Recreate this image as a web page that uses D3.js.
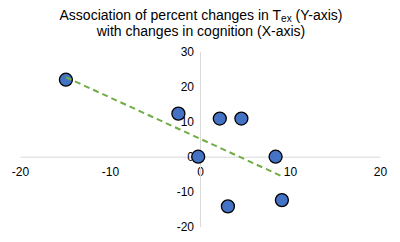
<!DOCTYPE html>
<html>
<head>
<meta charset="utf-8">
<script src="https://cdn.jsdelivr.net/npm/d3@7"></script>
<style>
  body { margin: 0; background: #fff; }
  svg { font-family: "Liberation Sans", Arial, sans-serif; }
</style>
</head>
<body>
<script>
// values
const xChange = [-14.9, -2.4, 2.2, 4.6, -0.2, 8.4, 3.1, 9.1]
const yChange = [22, 12.3, 10.9, 10.9, 0, 0, -14.2, -12.4]
const xTicks = [-20, -10, 0, 10, 20]
const yTicks = [-20, -10, 0, 10, 20, 30]

const width = 400, height = 242

const svg = d3.select('body').append('svg')
    .attr('width', width)
    .attr('height', height)

const x = d3.scaleLinear().domain([-20, 20]).range([20, 380])
const y = d3.scaleLinear().domain([-20, 30]).range([226.7, 51.7])

// title
const title = svg.append('text')
    .attr('text-anchor', 'middle')
    .attr('font-size', 14)
    .attr('fill', '#000')
title.append('tspan').attr('x', 201).attr('y', 20).text('Association of percent changes in T')
title.append('tspan').attr('font-size', 10).attr('dy', 1.5).text('ex')
title.append('tspan').attr('dy', -1.5).text(' (Y-axis)')
svg.append('text')
    .attr('x', 201).attr('y', 36)
    .attr('text-anchor', 'middle')
    .attr('font-size', 14)
    .text('with changes in cognition (X-axis)')

// axes through origin, plain hyphen for negatives like the original
const fmt = d => String(d)
const xAxis = svg.append('g')
    .attr('transform', `translate(0,${y(0)})`)
    .call(d3.axisBottom(x).tickValues(xTicks).tickFormat(fmt).tickSize(0).tickPadding(11))
const yAxis = svg.append('g')
    .attr('transform', `translate(${x(0)},0)`)
    .call(d3.axisLeft(y).tickValues(yTicks).tickFormat(fmt).tickSize(0).tickPadding(6))

for (let a of [xAxis, yAxis]) {
    a.select('.domain').attr('stroke', '#d9d9d9').attr('stroke-width', 1)
    a.selectAll('text')
        .attr('font-size', 12)
        .attr('fill', '#000')
        .attr('font-family', '"Liberation Sans", Arial, sans-serif')
}

// points
const pts = xChange.map((v, i) => ({x: v, y: yChange[i]}))
svg.selectAll('circle')
    .data(pts)
    .join('circle')
    .attr('cx', d => x(d.x))
    .attr('cy', d => y(d.y))
    .attr('r', 6.5)
    .attr('fill', '#4472c4')
    .attr('stroke', '#000')
    .attr('stroke-width', 1.3)

// linear trendline (least squares)
const mx = d3.mean(xChange), my = d3.mean(yChange)
const sxy = d3.sum(pts, d => (d.x - mx) * (d.y - my))
const sxx = d3.sum(pts, d => (d.x - mx) ** 2)
const slope = sxy / sxx, icpt = my - slope * mx
const [x0, x1] = d3.extent(xChange)

svg.append('path')
    .datum([x0, x1])
    .attr('d', d3.line().x(d => x(d)).y(d => y(icpt + slope * d)))
    .attr('fill', 'none')
    .attr('stroke', '#70ad47')
    .attr('stroke-width', 2)
    .attr('stroke-dasharray', '6,4')
</script>
</body>
</html>
